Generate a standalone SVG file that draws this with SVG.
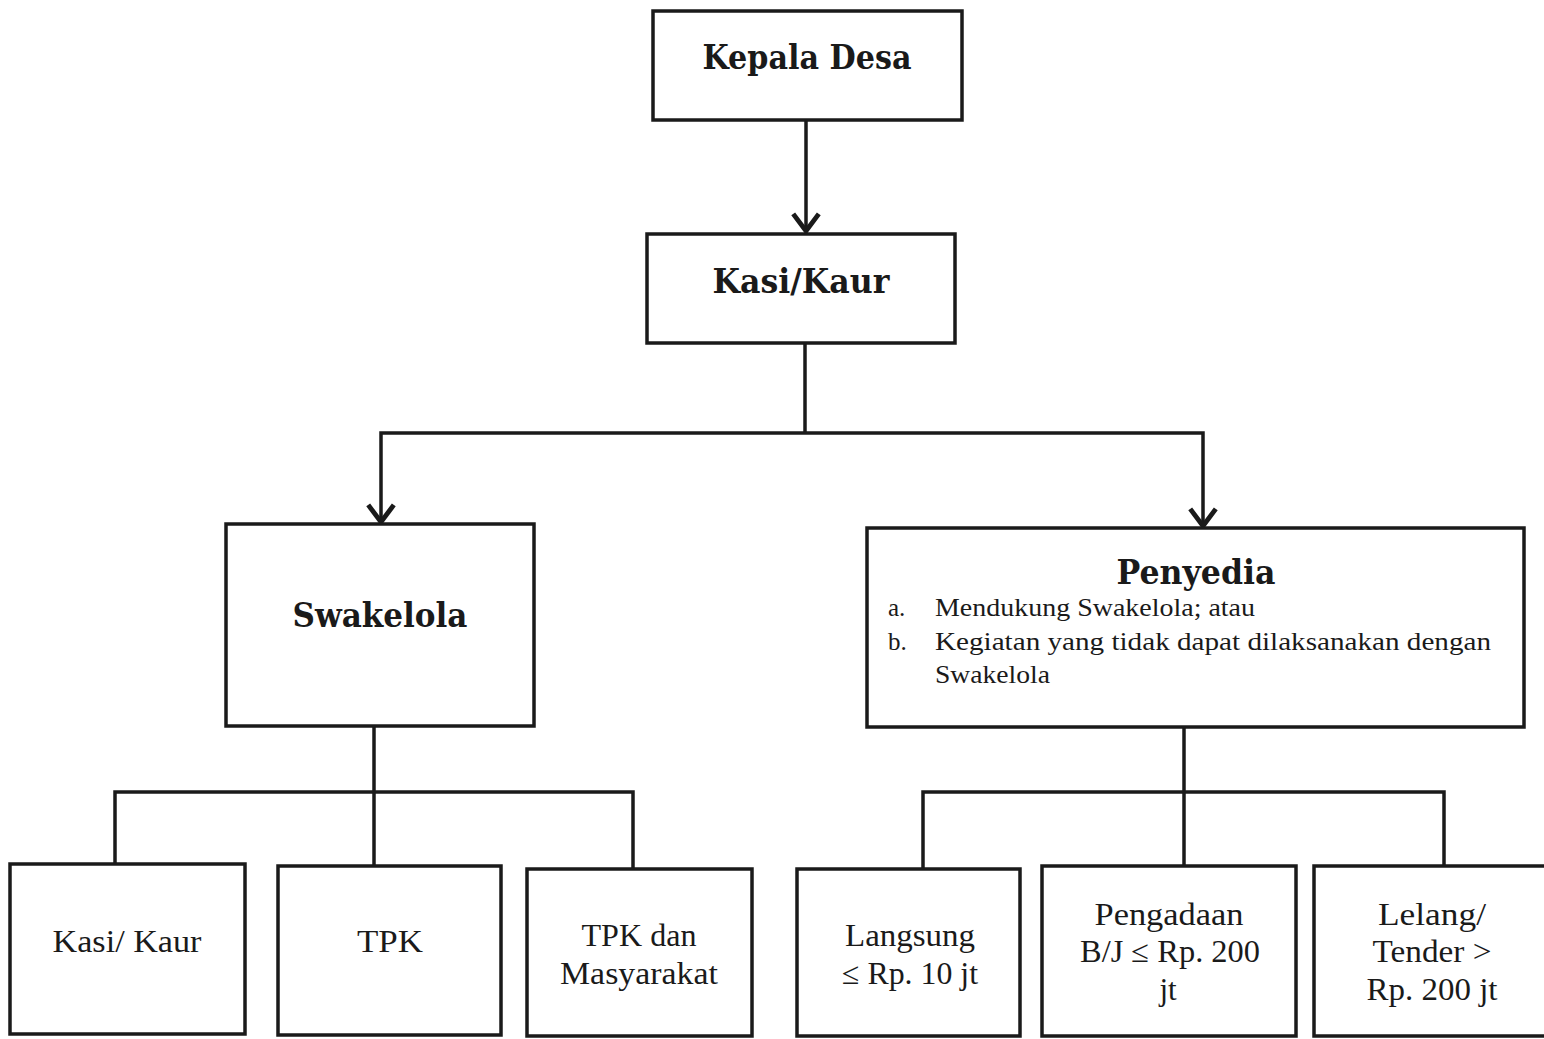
<svg xmlns="http://www.w3.org/2000/svg" width="1544" height="1039" viewBox="0 0 1544 1039">
<style>
.box{fill:#fff;stroke:#1a1a1a;stroke-width:3.5}
.ln{fill:none;stroke:#1a1a1a;stroke-width:3.5}
.h{font-family:"DejaVu Serif","Liberation Serif",serif;font-weight:bold;font-size:33px;fill:#1a1a1a;text-anchor:middle}
.t{font-family:"Liberation Serif","DejaVu Serif",serif;font-size:31px;fill:#1a1a1a;text-anchor:middle}
.s{font-family:"Liberation Serif","DejaVu Serif",serif;font-size:25px;fill:#1a1a1a}
</style>
<defs>
<marker id="arr" markerUnits="userSpaceOnUse" markerWidth="32" markerHeight="32" refX="26" refY="15" orient="auto-start-reverse" viewBox="0 0 30 30">
<path d="M10,3 L26,15 L10,27" fill="none" stroke="#1a1a1a" stroke-width="4.5"/>
</marker>
</defs>
<rect width="1544" height="1039" fill="#fff"/>
<g id="connectors">
<line class="ln" x1="806" y1="120" x2="806" y2="231" marker-end="url(#arr)"/>
<polyline class="ln" points="805,343 805,433"/>
<polyline class="ln" points="381,522 381,433 1203,433 1203,526" marker-start="url(#arr)" marker-end="url(#arr)"/>
<polyline class="ln" points="374,726 374,792"/>
<polyline class="ln" points="115,864 115,792 633,792 633,868"/>
<line class="ln" x1="374" y1="792" x2="374" y2="866"/>
<polyline class="ln" points="1184,727 1184,792"/>
<polyline class="ln" points="923,868 923,792 1444,792 1444,866"/>
<line class="ln" x1="1184" y1="792" x2="1184" y2="866"/>
</g>
<g id="kepala-desa">
<rect class="box" x="653" y="11" width="309" height="109"/>
<text class="h" x="807" y="69" textLength="209" lengthAdjust="spacingAndGlyphs">Kepala Desa</text>
</g>
<g id="kasi-kaur">
<rect class="box" x="647" y="234" width="308" height="109"/>
<text class="h" x="801" y="293" textLength="177" lengthAdjust="spacingAndGlyphs">Kasi/Kaur</text>
</g>
<g id="swakelola">
<rect class="box" x="226" y="524" width="308" height="202"/>
<text class="h" x="380" y="627" textLength="175" lengthAdjust="spacingAndGlyphs">Swakelola</text>
</g>
<g id="penyedia">
<rect class="box" x="867" y="528" width="657" height="199"/>
<text class="h" x="1196" y="584" textLength="159" lengthAdjust="spacingAndGlyphs">Penyedia</text>
<text class="s" x="888" y="616">a.</text>
<text class="s" x="935" y="616" textLength="320" lengthAdjust="spacingAndGlyphs">Mendukung Swakelola; atau</text>
<text class="s" x="888" y="650">b.</text>
<text class="s" x="935" y="650" textLength="556" lengthAdjust="spacingAndGlyphs">Kegiatan yang tidak dapat dilaksanakan dengan</text>
<text class="s" x="935" y="683" textLength="115" lengthAdjust="spacingAndGlyphs">Swakelola</text>
</g>
<g id="sw-kasi-kaur">
<rect class="box" x="10" y="864" width="235" height="170"/>
<text class="t" x="127" y="952" textLength="149" lengthAdjust="spacingAndGlyphs">Kasi/ Kaur</text>
</g>
<g id="sw-tpk">
<rect class="box" x="278" y="866" width="223" height="169"/>
<text class="t" x="390" y="952" textLength="66" lengthAdjust="spacingAndGlyphs">TPK</text>
</g>
<g id="sw-tpk-masyarakat">
<rect class="box" x="527" y="869" width="225" height="167"/>
<text class="t" x="639" y="946" textLength="115" lengthAdjust="spacingAndGlyphs">TPK dan</text>
<text class="t" x="639" y="984" textLength="158" lengthAdjust="spacingAndGlyphs">Masyarakat</text>
</g>
<g id="py-langsung">
<rect class="box" x="797" y="869" width="223" height="167"/>
<text class="t" x="910" y="946" textLength="130" lengthAdjust="spacingAndGlyphs">Langsung</text>
<text class="t" x="910" y="984" textLength="136" lengthAdjust="spacingAndGlyphs">≤ Rp. 10 jt</text>
</g>
<g id="py-pengadaan">
<rect class="box" x="1042" y="866" width="254" height="170"/>
<text class="t" x="1169" y="925" textLength="149" lengthAdjust="spacingAndGlyphs">Pengadaan</text>
<text class="t" x="1170" y="962" textLength="180" lengthAdjust="spacingAndGlyphs">B/J ≤ Rp. 200</text>
<text class="t" x="1168" y="1000">jt</text>
</g>
<g id="py-lelang">
<rect class="box" x="1314" y="866" width="240" height="170"/>
<text class="t" x="1432" y="925" textLength="108" lengthAdjust="spacingAndGlyphs">Lelang/</text>
<text class="t" x="1432" y="962" textLength="119" lengthAdjust="spacingAndGlyphs">Tender &gt;</text>
<text class="t" x="1432" y="1000" textLength="131" lengthAdjust="spacingAndGlyphs">Rp. 200 jt</text>
</g>
</svg>
